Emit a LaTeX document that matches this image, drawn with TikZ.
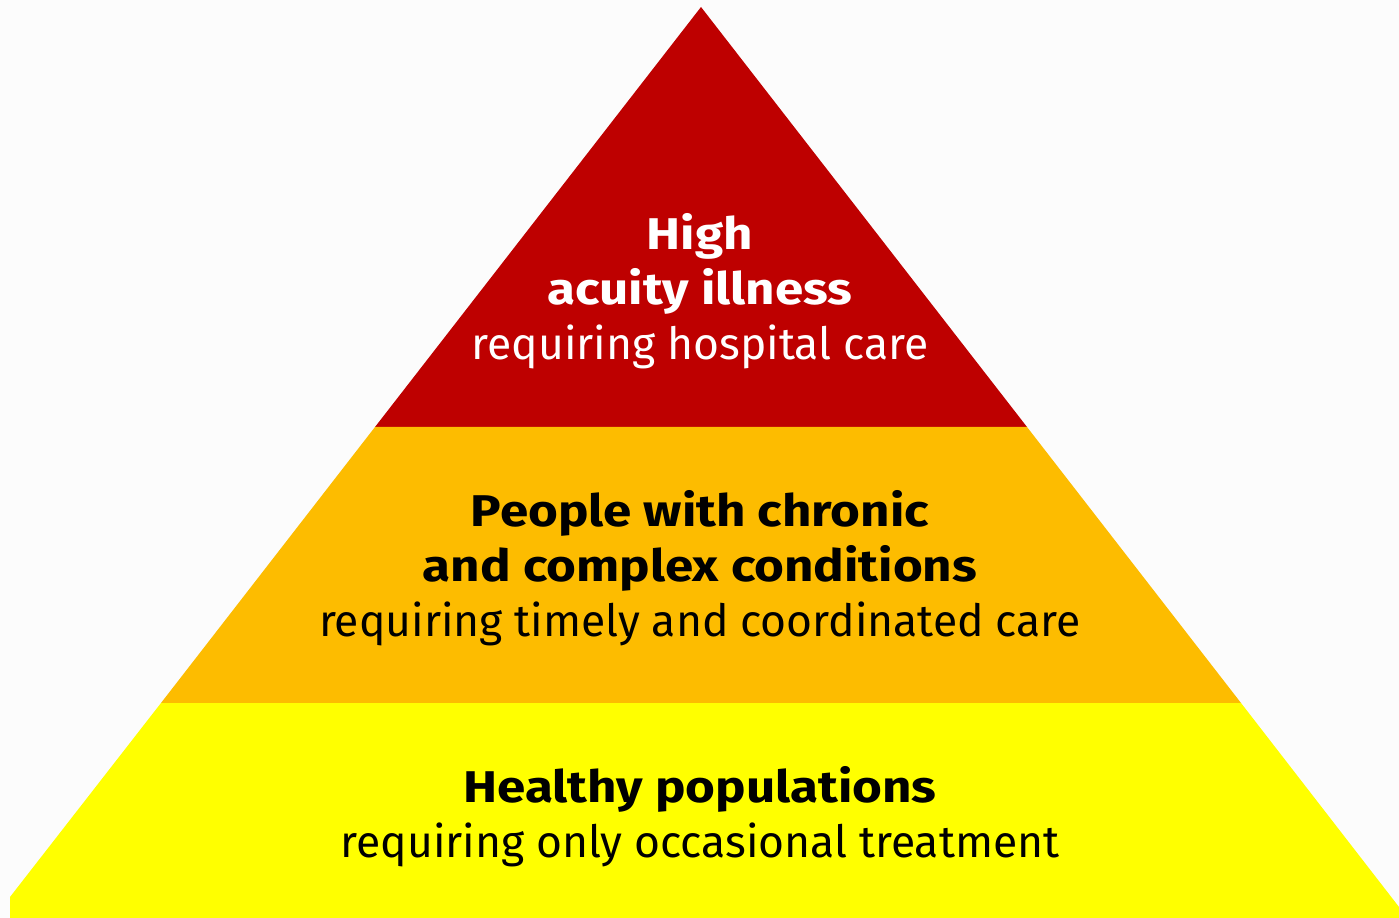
\documentclass[tikz,border=0pt]{standalone}
\usepackage{fontspec}
\setmainfont{Fira Sans}[BoldFeatures={FakeStretch=1.15}]
\usepackage{tikz}
\definecolor{acutered}{HTML}{BE0000}
\definecolor{chronicorange}{HTML}{FDBC00}
\definecolor{healthyyellow}{HTML}{FFFF00}
\tikzset{
    tiertext/.style={align=center, inner sep=0pt,
        font=\fontsize{25.3}{31.3}\selectfont},
}

\begin{document}
\begin{tikzpicture}[x=0.02cm, y=-0.02cm]
                    \useasboundingbox (0, 0) rectangle (1399, 918);
                    \fill[white!99!black]
                        (0, 0) rectangle (1399, 918)
                    ;
                    \fill[acutered]
                        (701, 7) -- (1027, 427) -- (375, 427) -- cycle
                    ;
                    \fill[chronicorange]
                        (375, 427) -- (1027, 427) -- (1241, 703) -- (161, 703) -- cycle
                    ;
                    \fill[healthyyellow]
                        (161, 703) -- (1241, 703) -- (1399, 907) -- (1399, 918)
                        -- (10, 918) -- (10, 897) -- cycle
                    ;
                    \node[tiertext, text=white] (acute) at (700, 291)
                        {\textbf{High}\\\textbf{acuity illness}\\requiring hospital care};
                    \node[tiertext] (chronic) at (700, 568)
                        {\textbf{People with chronic}\\\textbf{and complex conditions}\\requiring timely and coordinated care};
                    \node[tiertext] (healthy) at (700, 817)
                        {\textbf{Healthy populations}\\requiring only occasional treatment};
                \end{tikzpicture}
\end{document}
